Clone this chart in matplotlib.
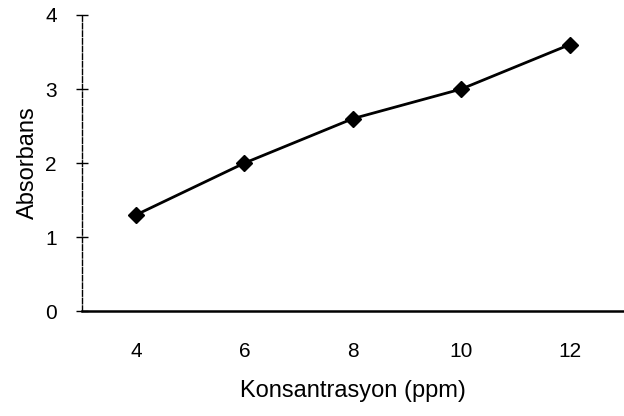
import matplotlib
matplotlib.use("Agg")
import matplotlib.pyplot as plt

# data
konsantrasyon = [4, 6, 8, 10, 12]
absorbans = [1.3, 2.0, 2.6, 3.0, 3.6]
y_ticks = [0, 1, 2, 3, 4]

plt.rcParams['font.family'] = ['Liberation Sans', 'DejaVu Sans']

fig = plt.figure(figsize=(6.24, 4.16), dpi=100)
ax = fig.add_axes([0.131, 0.252, 0.869, 0.712])

ax.plot(konsantrasyon, absorbans, color='black', linewidth=2,
        marker='D', markersize=8, markerfacecolor='black', markeredgecolor='black')

ax.set_xlim(3, 13)
ax.set_ylim(0, 4)
ax.set_xticks(konsantrasyon)
ax.set_yticks(y_ticks)

ax.spines['top'].set_visible(False)
ax.spines['right'].set_visible(False)
ax.spines['left'].set_linewidth(1.0)
ax.spines['left'].set_linestyle((0, (4, 1.5)))
ax.spines['bottom'].set_linewidth(1.8)

ax.tick_params(axis='x', length=0, pad=22, labelsize=15)
ax.tick_params(axis='y', direction='inout', length=8, width=1, pad=14, labelsize=15)

ax.set_xlabel('Konsantrasyon (ppm)', fontsize=17, labelpad=14)
ax.set_ylabel('Absorbans', fontsize=17, labelpad=4)

fig.savefig('out.png', dpi=100)
